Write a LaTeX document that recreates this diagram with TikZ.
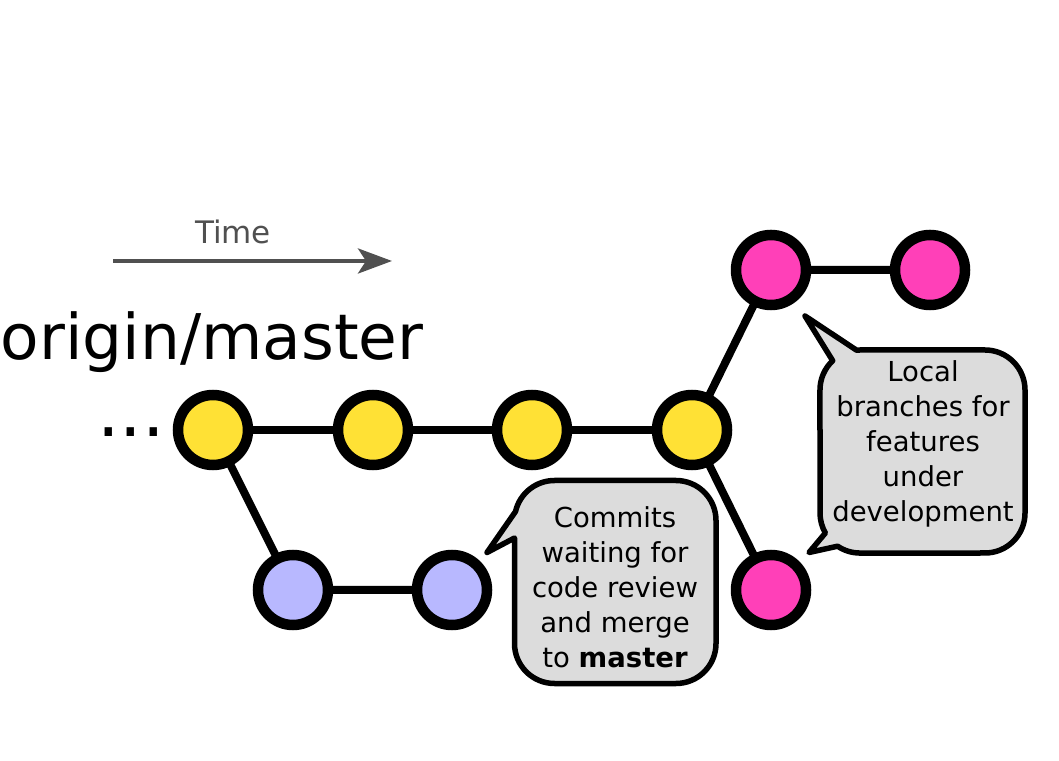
\documentclass[tikz,border=0pt]{standalone}
\usepackage{fontspec}
\setmainfont{DejaVu Sans}
\usetikzlibrary{arrows.meta,backgrounds}
\definecolor{cyellow}{HTML}{FFE135}
\definecolor{cblue}{HTML}{B8B8FF}
\definecolor{cpink}{HTML}{FF40B8}
\definecolor{cgrayfill}{HTML}{DCDCDC}
\definecolor{ctime}{HTML}{505050}
\begin{document}
\begin{tikzpicture}[x=1pt,y=1pt,
  commit/.style={circle,draw=black,line width=10.5pt,minimum size=70pt,inner sep=0pt},
  link/.style={line width=8pt,black},
  callout/.style={draw=black,fill=cgrayfill,line width=5.5pt,line join=round},
  callouttext/.style={align=center,font=\fontsize{27.5}{35}\selectfont,text=black}]
\useasboundingbox (0,0) rectangle (1059,760);
% time arrow
\node[text=ctime,font=\fontsize{31}{36}\selectfont] (time) at (233,528) {Time};
\coordinate (ta) at (113,499);
\coordinate (tb) at (392,499);
\draw[ctime,line width=4.3pt,-{Stealth[length=34pt,width=25pt,inset=8pt]}] (ta) -- (tb);
% labels
\node[anchor=base,font=\fontsize{63}{70}\selectfont] (origin) at (212,400) {origin/master};
\node[anchor=base,font=\fontsize{71}{80}\selectfont] (dots) at (131,323) {.{}.{}.};
% commits
\node[commit,fill=cyellow] (y1) at (213,330) {};
\node[commit,fill=cyellow] (y2) at (373,330) {};
\node[commit,fill=cyellow] (y3) at (532,330) {};
\node[commit,fill=cyellow] (y4) at (692,330) {};
\node[commit,fill=cblue] (b1) at (293,170) {};
\node[commit,fill=cblue] (b2) at (452,170) {};
\node[commit,fill=cpink] (p1) at (771,490) {};
\node[commit,fill=cpink] (p2) at (930,490) {};
\node[commit,fill=cpink] (p3) at (771,170) {};
% links behind the commits
\begin{scope}[on background layer]
\draw[link] (y1.center) -- (y2.center) -- (y3.center) -- (y4.center);
\draw[link] (y1.center) -- (b1.center) -- (b2.center);
\draw[link] (y4.center) -- (p1.center) -- (p2.center);
\draw[link] (y4.center) -- (p3.center);
\end{scope}
% callout 1
\draw[callout] (514.5,222) -- (514.5,116.5) arc[start angle=180,end angle=270,radius=40]
  -- (676,76.5) arc[start angle=270,end angle=360,radius=40]
  -- (716,239.5) arc[start angle=0,end angle=90,radius=40]
  -- (554.5,279.5) arc[start angle=90,end angle=167,radius=40]
  -- (487,207.5) -- cycle;
\node[callouttext] (c1) at (615,173) {Commits\\waiting for\\code review\\and merge\\to \textbf{master}};
% callout 2
\draw[callout] (805,444) -- (832.7,399.3) arc[start angle=133,end angle=180,radius=40]
  -- (820,247) arc[start angle=180,end angle=210,radius=40]
  -- (809,207.5) -- (837.6,213.8) arc[start angle=236,end angle=270,radius=40]
  -- (985,207) arc[start angle=270,end angle=360,radius=40]
  -- (1025,370) arc[start angle=0,end angle=90,radius=40]
  -- (860,410) arc[start angle=90,end angle=95,radius=40] -- cycle;
\node[callouttext] (c2) at (923,316) {Local\\branches for\\features\\under\\development};
\end{tikzpicture}
\end{document}
